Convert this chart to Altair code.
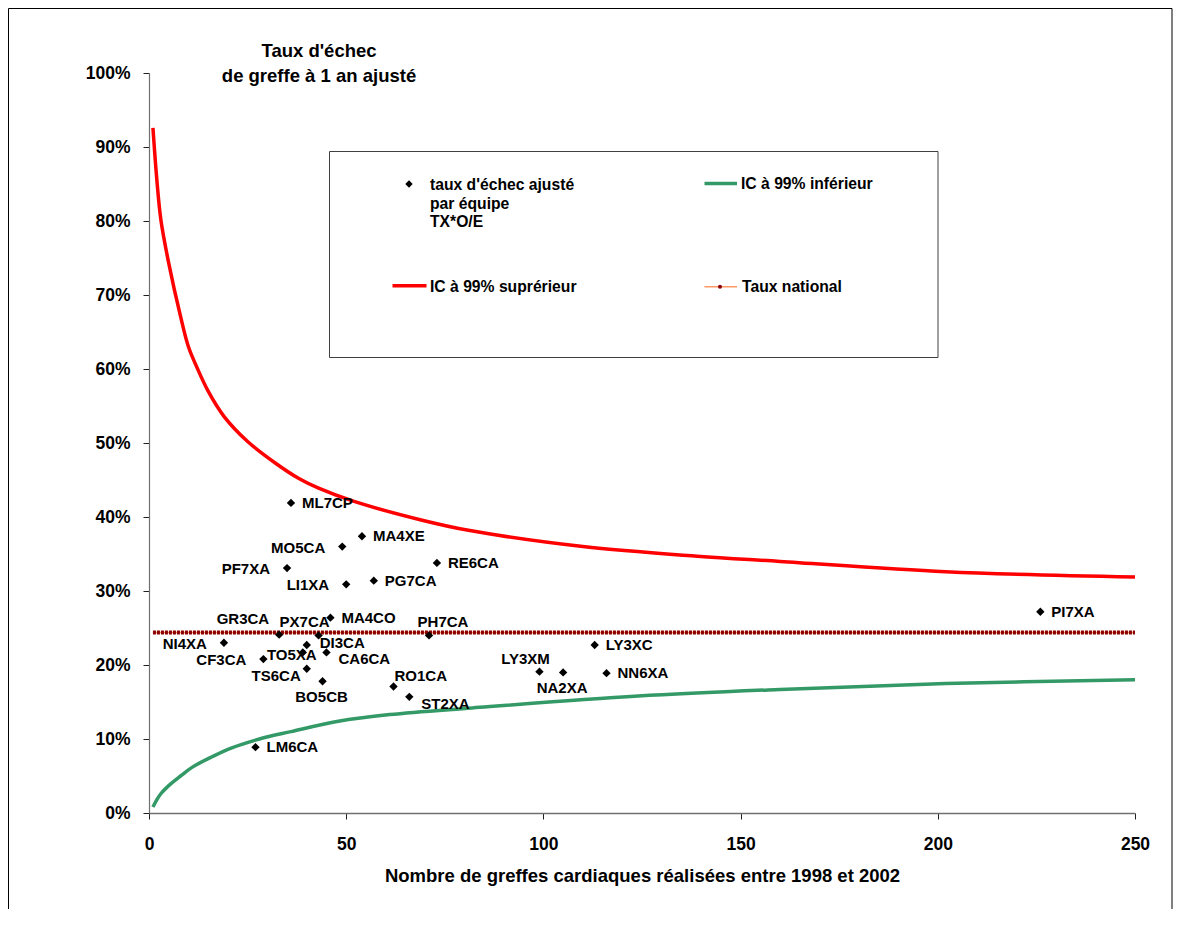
import altair as alt
import pandas as pd

# ---------------- data ----------------
teams = ["ML7CP", "MA4XE", "MO5CA", "PF7XA", "RE6CA", "LI1XA", "PG7CA", "MA4CO",
         "PI7XA", "GR3CA", "PX7CA", "PH7CA", "NI4XA", "DI3CA", "LY3XC", "CF3CA",
         "TO5XA", "CA6CA", "TS6CA", "BO5CB", "RO1CA", "ST2XA", "LM6CA", "LY3XM",
         "NA2XA", "NN6XA"]
n_greffes = [36, 54, 49, 35, 73, 50, 57, 46,
             226, 33, 43, 71, 19, 40, 113, 29,
             39, 45, 40, 44, 62, 66, 27, 99,
             105, 116]
taux_pct = [41.9, 37.4, 36.0, 33.1, 33.8, 30.9, 31.4, 26.4,
            27.2, 24.1, 24.0, 24.0, 23.0, 22.7, 22.7, 20.8,
            21.7, 21.7, 19.5, 17.8, 17.1, 15.7, 8.9, 19.1,
            19.0, 18.9]
# label placement category (like Excel's label position setting)
label_pos = ["right", "right", "left", "left", "right", "left", "right", "right",
             "right", "leftabove", "aboveleft", "above", "left", "rightup", "right", "left",
             "over", "rightbelow", "leftbelow", "below", "aboveright", "rightbelow", "right", "aboveleft",
             "below", "right"]

upper_n = [1, 2, 3, 5, 8, 10, 12, 15, 19, 25, 32, 38, 43, 52, 69, 81, 110, 139, 160, 202, 250]
upper_pct = [92.6, 85.5, 80.2, 74.3, 67.1, 63.0, 60.4, 57.0, 53.6, 50.2, 47.3, 45.2, 43.9, 42.1,
             39.6, 38.2, 36.0, 34.7, 34.0, 32.6, 31.9]
lower_n = [1, 2, 3, 5, 8, 11, 16, 21, 28, 36, 48, 61, 82, 124, 160, 202, 250]
lower_pct = [0.8, 1.8, 2.6, 3.7, 5.0, 6.2, 7.6, 8.8, 10.0, 11.0, 12.4, 13.3, 14.2, 15.8, 16.7, 17.5, 18.0]
national_n = [1, 250]
national_pct = [24.4, 24.4]

x_ticks = [0, 50, 100, 150, 200, 250]
y_ticks_pct = [0, 10, 20, 30, 40, 50, 60, 70, 80, 90, 100]

title_lines = ["Taux d'échec", "de greffe à 1 an ajusté"]
x_title = "Nombre de greffes cardiaques réalisées entre 1998 et 2002"
legend_labels = ["taux d'échec ajusté", "par équipe", "TX*O/E",
                 "IC à 99% inférieur", "IC à 99% suprérieur", "Taux national"]

# ---------------- tables ----------------
pts = pd.DataFrame({"team": teams, "n": n_greffes,
                    "rate": [v / 100 for v in taux_pct], "pos": label_pos})
up = pd.DataFrame({"n": upper_n, "rate": [v / 100 for v in upper_pct]})
lo = pd.DataFrame({"n": lower_n, "rate": [v / 100 for v in lower_pct]})
nat = pd.DataFrame({"n": national_n, "rate": [v / 100 for v in national_pct]})

FONT = "Liberation Sans"
W, H = 986, 740

xs = alt.Scale(domain=[0, 250], nice=False, zero=False)
ys = alt.Scale(domain=[0, 1], nice=False)

xax = alt.Axis(values=x_ticks, title=x_title, grid=False, tickSize=6, labelPadding=16,
               titlePadding=14, labelFont=FONT, labelFontSize=17.5, labelFontWeight="bold",
               titleFont=FONT, titleFontSize=18.5, titleFontWeight="bold",
               labelColor="black", titleColor="black", domainColor="#707070",
               domainWidth=1.5, tickColor="#202020", labelFlush=False)
yax = alt.Axis(values=[v / 100 for v in y_ticks_pct], format=".0%", title=None, grid=False,
               tickSize=6, labelPadding=13, labelFont=FONT, labelFontSize=17.5,
               labelFontWeight="bold", labelColor="black", domainColor="#707070",
               domainWidth=1.2, tickColor="#202020")

X = alt.X("n:Q", scale=xs, axis=xax)
Y = alt.Y("rate:Q", scale=ys, axis=yax)

upper_line = alt.Chart(up).mark_line(color="#FF0000", strokeWidth=3.5,
                                     interpolate="catmull-rom").encode(x=X, y=Y)
lower_line = alt.Chart(lo).mark_line(color="#339966", strokeWidth=3.5,
                                     interpolate="catmull-rom").encode(x=X, y=Y)
nat_base = alt.Chart(nat).mark_line(color="#FF9966", strokeWidth=1.5).encode(x=X, y=Y)
nat_dots = alt.Chart(nat).mark_line(color="#8B0000", strokeWidth=4,
                                    strokeDash=[3, 1]).encode(x=X, y=Y)
points = alt.Chart(pts).mark_point(shape="diamond", filled=True, size=70, color="black",
                                   opacity=1).encode(x=X, y=Y)

offsets = {
    "right": (11, 0, "left"),
    "rightup": (13, -2, "left"),
    "rightbelow": (12, 7, "left"),
    "left": (-17, 1, "right"),
    "leftbelow": (-6, 7, "right"),
    "leftabove": (-10, -16, "right"),
    "over": (-11, 3, "center"),
    "aboveleft": (-14, -13, "center"),
    "above": (14, -13, "center"),
    "aboveright": (1, -10, "left"),
    "below": (-1, 16, "center"),
}
label_layers = []
for key, (dx, dy, al) in offsets.items():
    label_layers.append(
        alt.Chart(pts).transform_filter(alt.datum.pos == key).mark_text(
            dx=dx, dy=dy, align=al, baseline="middle", font=FONT, fontSize=15,
            fontWeight="bold", color="black").encode(x=X, y=Y, text="team:N"))


def txt(t, x, y, size=15.7, align="left", baseline="middle"):
    return alt.Chart(pd.DataFrame({"t": [t]})).mark_text(
        align=align, baseline=baseline, font=FONT, fontSize=size, fontWeight="bold",
        color="black").encode(x=alt.value(x), y=alt.value(y), text="t:N")


one = pd.DataFrame({"k": [0]})

# chart title
title_layers = [txt(title_lines[0], 170, -16.5, 18.5, "center", "alphabetic"),
                txt(title_lines[1], 170, 9, 18.5, "center", "alphabetic")]

# legend box and entries
legend_box = alt.Chart(one).mark_rect(fillOpacity=0, stroke="#404040", strokeWidth=1).encode(
    x=alt.value(180.5), x2=alt.value(789), y=alt.value(78.5), y2=alt.value(284.5))
leg_diamond = alt.Chart(one).mark_point(shape="diamond", filled=True, size=55, color="black",
                                        opacity=1).encode(x=alt.value(260), y=alt.value(111))
leg_green = alt.Chart(one).mark_rule(color="#339966", strokeWidth=3.5).encode(
    x=alt.value(555.5), x2=alt.value(588), y=alt.value(110.5))
leg_red = alt.Chart(one).mark_rule(color="#FF0000", strokeWidth=3.5).encode(
    x=alt.value(243.5), x2=alt.value(277.5), y=alt.value(212.7))
leg_orange = alt.Chart(one).mark_rule(color="#FF9966", strokeWidth=1.5).encode(
    x=alt.value(555.5), x2=alt.value(588), y=alt.value(213.7))
leg_dot = alt.Chart(one).mark_point(shape="circle", filled=True, size=16, color="#8B0000",
                                    opacity=1).encode(x=alt.value(571), y=alt.value(213.7))
legend_texts = [txt(legend_labels[0], 281, 111.5), txt(legend_labels[1], 281, 130.5),
                txt(legend_labels[2], 281, 149), txt(legend_labels[3], 592, 111),
                txt(legend_labels[4], 281, 213.5), txt(legend_labels[5], 593, 214)]

# outer frame of the figure
frame = alt.Chart(one).mark_rect(fillOpacity=0, stroke="black", strokeWidth=1).encode(
    x=alt.value(-140.5), x2=alt.value(1023), y=alt.value(-64.5), y2=alt.value(950))

chart = alt.layer(
    frame, upper_line, lower_line, nat_base, nat_dots, points, *label_layers,
    *title_layers, legend_box, leg_diamond, leg_green, leg_red, leg_orange, leg_dot,
    *legend_texts
).properties(
    width=W, height=H,
    autosize=alt.AutoSizeParams(type="none"),
    padding={"left": 141, "top": 65, "right": 38, "bottom": 96},
    background="white",
).configure_view(strokeWidth=0)

chart.save("out.html", embed_options={"renderer": "svg", "actions": False})
